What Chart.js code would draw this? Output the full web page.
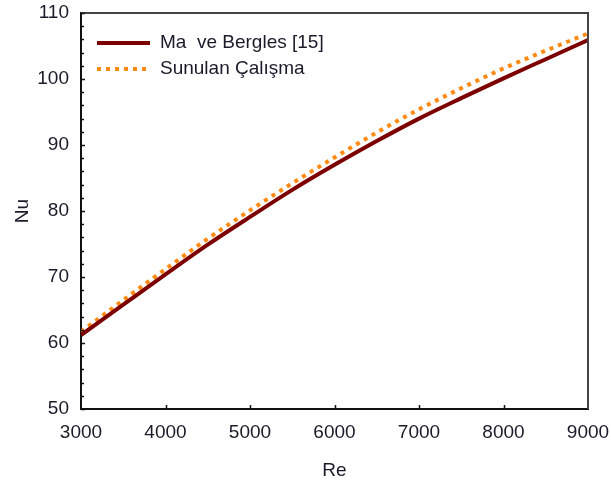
<!DOCTYPE html>
<html>
<head>
<meta charset="utf-8">
<script src="https://cdn.jsdelivr.net/npm/chart.js@4"></script>
<style>
  html, body { margin: 0; padding: 0; background: #fff; }
  #wrap { width: 611px; height: 486px; }
</style>
</head>
<body>
<div id="wrap"><canvas id="chart" width="611" height="486"></canvas></div>
<script>
// values
const reValues = [3000, 3500, 4000, 4500, 5000, 5500, 6000, 6500, 7000, 7500, 8000, 8500, 9000];
const maBergles = [61.2, 65.8, 70.4, 74.9, 79.1, 83.2, 87.0, 90.6, 94.0, 97.1, 100.1, 103.0, 105.9];
const sunulan = [61.7, 66.5, 71.2, 75.8, 80.1, 84.2, 88.1, 91.9, 95.4, 98.6, 101.6, 104.3, 106.9];
const seriesLabels = ["Ma  ve Bergles [15]", "Sunulan Çalışma"];
const xTitle = "Re";
const yTitle = "Nu";

const FONT = "'Liberation Sans', Arial, sans-serif";
const TEXT = "#1a1a2a";

const toPoints = (ys) => ys.map((y, i) => ({ x: reValues[i], y: y }));

// no extra room for overhanging labels, layout.padding decides the plot box
const noOverhang = (s) => {
  s.paddingTop = 0;
  s.paddingBottom = 0;
  s.paddingLeft = 0;
  s.paddingRight = 0;
};

// frame, inward ticks and the legend box inside the plot
const decorations = {
  id: "decorations",
  afterDraw(chart) {
    const { ctx, chartArea: a, scales } = chart;
    ctx.save();
    ctx.strokeStyle = "#444";
    ctx.lineWidth = 2;
    ctx.beginPath();
    ctx.moveTo(a.left, a.top);
    ctx.lineTo(a.right, a.top);
    ctx.lineTo(a.right, a.bottom);
    ctx.stroke();

    ctx.strokeStyle = "#111";
    ctx.lineWidth = 1.5;
    ctx.beginPath();
    for (let v = 50; v <= 110; v += 2) {
      const y = Math.round(scales.y.getPixelForValue(v)) + 0.5;
      const len = v % 10 === 0 ? 4 : 3;
      ctx.moveTo(a.left, y);
      ctx.lineTo(a.left + len, y);
    }
    for (let v = 4000; v < 9000; v += 1000) {
      const x = Math.round(scales.x.getPixelForValue(v)) + 0.5;
      ctx.moveTo(x, a.bottom);
      ctx.lineTo(x, a.bottom - 4);
    }
    ctx.stroke();

    // legend
    const lx = 97, ly = 43, gap = 26;
    chart.data.datasets.forEach((ds, i) => {
      const y = ly + i * gap;
      ctx.strokeStyle = ds.borderColor;
      ctx.lineWidth = ds.borderWidth;
      ctx.setLineDash(ds.borderDash || []);
      ctx.beginPath();
      ctx.moveTo(lx, y);
      ctx.lineTo(lx + 53, y);
      ctx.stroke();
      ctx.setLineDash([]);
      ctx.fillStyle = TEXT;
      ctx.font = "19px " + FONT;
      ctx.textBaseline = "middle";
      ctx.textAlign = "left";
      ctx.fillText(ds.label, lx + 63, y);
    });
    ctx.restore();
  },
};

new Chart(document.getElementById("chart"), {
  type: "line",
  data: {
    datasets: [
      {
        label: seriesLabels[0],
        data: toPoints(maBergles),
        borderColor: "#7d0000",
        borderWidth: 4,
        pointRadius: 0,
        cubicInterpolationMode: "monotone",
      },
      {
        label: seriesLabels[1],
        data: toPoints(sunulan),
        borderColor: "#ff8a12",
        borderWidth: 4,
        borderDash: [4, 5],
        pointRadius: 0,
        cubicInterpolationMode: "monotone",
      },
    ],
  },
  options: {
    responsive: false,
    animation: false,
    layout: { padding: { top: 13, right: 23, left: 0, bottom: 0 } },
    plugins: { legend: { display: false }, tooltip: { enabled: false } },
    scales: {
      x: {
        type: "linear",
        min: 3000,
        max: 9000,
        afterFit: (s) => { s.height = 77; noOverhang(s); },
        border: { color: "#111", width: 2 },
        grid: { display: false, drawTicks: false },
        ticks: {
          stepSize: 1000,
          padding: 12,
          color: TEXT,
          font: { family: FONT, size: 19 },
          callback: (v) => String(v),
        },
        title: { display: true, text: xTitle, color: TEXT, font: { family: FONT, size: 19 }, padding: { top: 12 } },
      },
      y: {
        min: 50,
        max: 110,
        afterFit: (s) => { s.width = 81; noOverhang(s); },
        border: { color: "#111", width: 2 },
        grid: { display: false, drawTicks: false },
        ticks: { stepSize: 10, padding: 12, color: TEXT, font: { family: FONT, size: 19 } },
        title: { display: true, text: yTitle, color: TEXT, font: { family: FONT, size: 19 }, padding: { top: 11, bottom: 4 } },
      },
    },
  },
  plugins: [decorations],
});
</script>
</body>
</html>
